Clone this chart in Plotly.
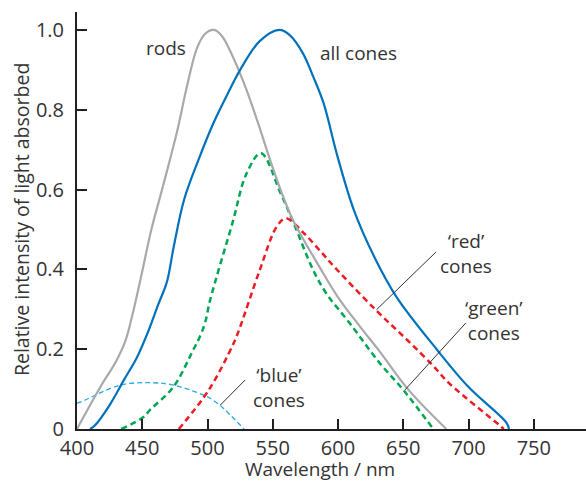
import plotly.graph_objects as go

# Absorption spectra of rods and cones (wavelength in nm, relative absorption)
rods_nm = [400, 405, 418, 430, 437, 442, 449, 457, 466, 477, 484, 492, 498, 505,
           511, 517, 528, 538, 548, 558, 566, 586, 600, 617, 632, 654, 683]
rods_val = [0.0, 0.03, 0.106, 0.17, 0.22, 0.28, 0.38, 0.50, 0.61, 0.75, 0.855, 0.955, 0.99, 1.0,
            0.985, 0.95, 0.866, 0.774, 0.674, 0.582, 0.52, 0.405, 0.33, 0.256, 0.194, 0.098, 0.0]

all_nm = [410, 414, 425, 436, 446, 454, 462, 469, 474, 482, 493, 505, 517, 525, 540, 555,
          563, 573, 581, 589, 599, 612, 628, 645, 676, 700, 729, 731]
all_val = [0.0, 0.01, 0.06, 0.123, 0.18, 0.24, 0.31, 0.37, 0.455, 0.574, 0.674, 0.77, 0.85, 0.9, 0.972, 1.0,
           0.987, 0.942, 0.883, 0.816, 0.69, 0.55, 0.43, 0.33, 0.198, 0.105, 0.016, 0.0]

red_nm = [478, 501, 520, 525, 540, 553, 560, 574, 588, 597, 629, 653, 673, 685, 725, 727]
red_val = [0.0, 0.098, 0.215, 0.256, 0.398, 0.507, 0.528, 0.49, 0.44, 0.407, 0.298, 0.223, 0.158, 0.115, 0.006, 0.0]

green_nm = [434, 451, 456, 474, 489, 493, 498, 502, 519, 530, 541, 556, 566, 581, 591, 609, 632, 650, 673]
green_val = [0.0, 0.03, 0.048, 0.106, 0.198, 0.223, 0.265, 0.323, 0.515, 0.641, 0.691, 0.591, 0.516, 0.398,
             0.34, 0.265, 0.165, 0.098, 0.0]

blue_nm = [400, 403, 433, 456, 474, 497, 502, 510, 515, 528]
blue_val = [0.065, 0.068, 0.11, 0.116, 0.11, 0.085, 0.077, 0.058, 0.043, 0.0]

x_ticks = [400, 450, 500, 550, 600, 650, 700, 750]
y_ticks = [0, 0.2, 0.4, 0.6, 0.8, 1.0]
y_tick_text = ["0", "0.2", "0.4", "0.6", "0.8", "1.0"]

FONT = "Open Sans"
TEXT = "#333333"
AXIS = "#231f20"

fig = go.Figure()

def curve(xs, ys, color, width, dash="solid"):
    fig.add_trace(go.Scatter(
        x=xs, y=ys, mode="lines",
        line=dict(color=color, width=width, dash=dash, shape="spline", smoothing=1.0),
        hoverinfo="skip", showlegend=False,
    ))

curve(blue_nm, blue_val, "#29abe2", 1.3, "5px,3px")
curve(green_nm, green_val, "#00a651", 2.5, "6px,4px")
curve(red_nm, red_val, "#ed1c24", 2.5, "6px,4px")
curve(rods_nm, rods_val, "#a7a9ac", 2.2)
curve(all_nm, all_val, "#0072bc", 2.2)

# leader lines from labels to the cone curves
leaders = [
    (675.2, 0.444, 629.5, 0.299),
    (698.0, 0.266, 651.3, 0.098),
    (528.9, 0.123, 509.8, 0.060),
]
for x0, y0, x1, y1 in leaders:
    fig.add_shape(type="line", xref="x", yref="y", x0=x0, y0=y0, x1=x1, y1=y1,
                  line=dict(color="#333333", width=1))

labels = [
    ("rods", 468.5, 0.955),
    ("all cones", 616, 0.942),
    ("\u2018red\u2019<br>cones", 698.0, 0.441),
    ("\u2018green\u2019<br>cones", 719.8, 0.271),
    ("\u2018blue\u2019<br>cones", 554.5, 0.104),
]
for txt, x, y in labels:
    fig.add_annotation(text=txt, x=x, y=y, xref="x", yref="y", showarrow=False,
                       align="center", font=dict(family=FONT, size=19, color=TEXT))

fig.add_annotation(text="Wavelength / nm", x=0.4774, y=-0.095, xref="paper", yref="paper",
                   xanchor="center", yanchor="middle", showarrow=False,
                   font=dict(family=FONT, size=19, color=TEXT))
fig.add_annotation(text="Relative intensity of light absorbed", x=-0.110, y=0.501,
                   xref="paper", yref="paper", xanchor="center", yanchor="middle",
                   showarrow=False, textangle=-90,
                   font=dict(family=FONT, size=19.5, color=TEXT))

fig.update_xaxes(
    range=[400, 790], tickvals=x_ticks, ticks="inside", ticklen=10, tickwidth=1.5,
    tickcolor=AXIS, showline=True, linecolor=AXIS, linewidth=2, showgrid=False,
    zeroline=False, tickfont=dict(family=FONT, size=20, color=TEXT),
)
fig.update_yaxes(
    range=[0, 1.045], tickvals=y_ticks, ticktext=y_tick_text, ticks="inside", ticklen=10,
    tickwidth=1.5, tickcolor=AXIS, showline=True, linecolor=AXIS, linewidth=2,
    showgrid=False, zeroline=False, ticklabelstandoff=7,
    tickfont=dict(family=FONT, size=20, color=TEXT),
)

fig.update_layout(
    width=586, height=482,
    margin=dict(l=77, r=0, t=12, b=53),
    paper_bgcolor="white", plot_bgcolor="white",
)

fig.write_html("out.html")
